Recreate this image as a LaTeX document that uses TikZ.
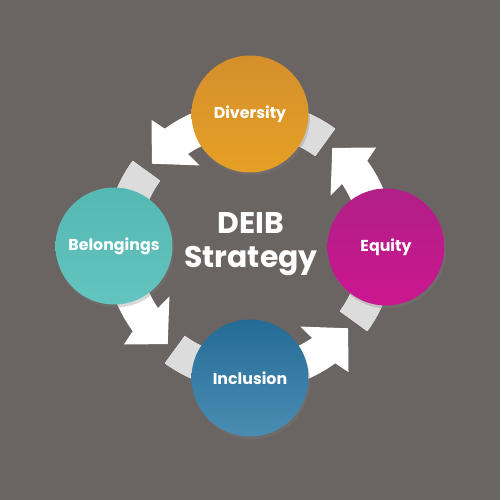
\documentclass[tikz,border=0pt]{standalone}
\usepackage{fontspec}
\setmainfont{Poppins}
\usetikzlibrary{shadows}

\definecolor{bgcol}{HTML}{6A6463}
\definecolor{tailgray}{HTML}{DCDCDC}
\definecolor{divtop}{HTML}{D48F2C}
\definecolor{divbot}{HTML}{E6A025}
\definecolor{beltop}{HTML}{55B8B3}
\definecolor{belbot}{HTML}{64C4BF}
\definecolor{equtop}{HTML}{B11F87}
\definecolor{equbot}{HTML}{CB1691}
\definecolor{inctop}{HTML}{246C96}
\definecolor{incbot}{HTML}{4A8DB3}

\tikzset{
	bubble/.style={circle, minimum size=2.34cm, inner sep=0pt, text=white,
		font=\bfseries\fontsize{9}{11}\selectfont,
		drop shadow={opacity=0.3, shadow xshift=0.03cm, shadow yshift=-0.06cm}},
	arrowbody/.style={fill=white},
	arrowtail/.style={fill=tailgray},
	title/.style={text=white, align=center, font=\bfseries\fontsize{17}{19.5}\selectfont}
}

\begin{document}
\begin{tikzpicture}[x=0.02cm,y=0.02cm]
	\fill[bgcol] (0,0) rectangle (500,500);
	\coordinate (c) at (250,254);
	% arrows round the ring, behind the circles
	\foreach \k in {0,90,180,270}{
		\begin{scope}[shift={(c)},rotate=\k]
			\fill[arrowbody] (54:111) -- (54:145) arc[start angle=54,end angle=126,radius=145]
				-- (128:160) -- (140:128) -- (122:95) -- (124:111)
				arc[start angle=124,end angle=54,radius=111] -- cycle;
			\fill[arrowtail] (54:111) -- (54:145) arc[start angle=54,end angle=70,radius=145]
				-- (70:111) arc[start angle=70,end angle=54,radius=111] -- cycle;
		\end{scope}
	}
	\node[bubble,top color=divtop,bottom color=divbot] (div) at (250,386) {Diversity};
	\node[bubble,top color=beltop,bottom color=belbot] (bel) at (114,254) {Belongings};
	\node[bubble,top color=inctop,bottom color=incbot] (inc) at (250,122) {Inclusion};
	\node[bubble,top color=equtop,bottom color=equbot] (equ) at (386,253) {Equity};
	\node[title] (deib) at (251,256) {DEIB\\Strategy};
\end{tikzpicture}
\end{document}
